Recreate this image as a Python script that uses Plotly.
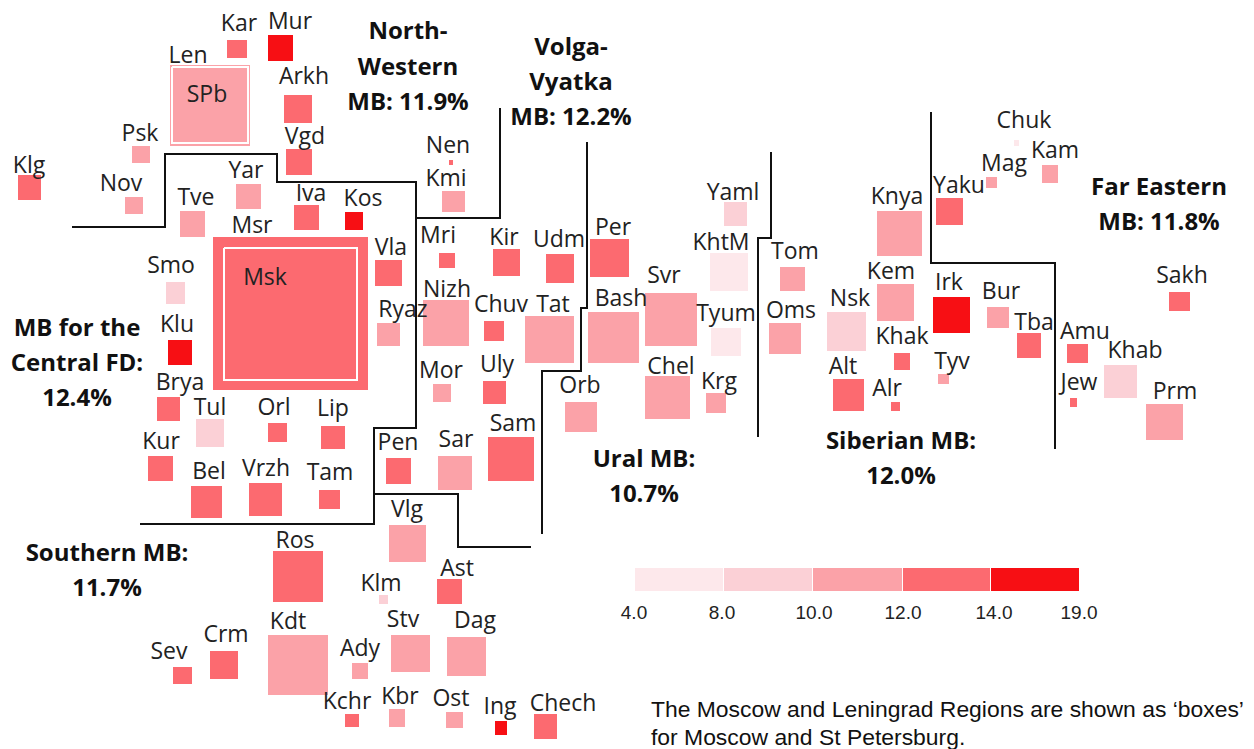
import plotly.graph_objects as go

# Region cartogram squares: name, left, top, right, bottom, rate class (1..5)
regions = [
 ("Kar",227,40,247,58,4),("Mur",268,35,293,61,5),("Len",170,65,250,146,3),("Arkh",284,95,312,123,4),
 ("Vgd",286,149,312,175,4),("Psk",132,146,150,163,3),("Klg",18,175,41,200,4),("Nov",125,197,143,214,3),
 ("Yar",236,184,261,209,3),("Tve",180,211,205,237,3),("Iva",294,205,319,230,4),("Kos",345,212,363,230,5),
 ("Msk",213,237,368,390,4),("Vla",375,260,402,286,4),("Smo",166,282,185,304,2),("Ryaz",377,323,400,346,3),
 ("Klu",168,340,192,365,5),("Brya",157,397,180,421,4),("Tul",196,419,224,447,2),("Orl",268,423,287,442,4),
 ("Lip",321,426,345,449,4),("Kur",148,456,173,481,4),("Pen",386,458,411,484,4),("Bel",191,486,222,518,4),
 ("Vrzh",249,483,282,516,4),("Tam",319,490,340,509,4),("Nen",449,160,453,165,4),("Kmi",442,191,465,212,3),
 ("Mri",439,253,455,268,4),("Kir",493,249,520,276,4),("Udm",546,254,574,283,4),("Per",590,239,629,277,4),
 ("Nizh",423,300,469,346,3),("Chuv",484,321,504,341,4),("Tat",525,316,574,363,3),("Bash",588,312,639,363,3),
 ("Svr",645,293,697,346,3),("Mor",433,384,451,402,3),("Uly",483,381,506,404,4),("Orb",565,402,597,432,3),
 ("Chel",645,376,690,419,3),("Krg",706,393,726,413,3),("Yaml",724,202,747,226,2),("KhtM",710,253,748,291,1),
 ("Tyum",711,328,741,356,1),("Sam",488,437,534,481,4),("Sar",438,456,472,490,3),("Tom",780,267,805,291,3),
 ("Oms",769,323,801,354,3),("Knya",877,211,922,256,3),("Kem",877,284,914,321,3),("Nsk",827,312,866,351,2),
 ("Irk",933,297,970,333,5),("Bur",987,307,1009,328,3),("Tba",1017,333,1041,358,4),("Yaku",936,198,963,225,4),
 ("Mag",986,177,997,188,3),("Kam",1042,165,1058,183,3),("Chuk",1014,140,1019,146,1),("Khak",894,353,910,370,4),
 ("Tyv",938,374,949,384,3),("Alt",833,379,864,411,4),("Alr",891,402,900,411,4),("Amu",1067,344,1088,363,4),
 ("Jew",1070,398,1077,407,4),("Khab",1104,365,1137,398,2),("Prm",1146,404,1183,440,3),("Sakh",1169,292,1190,311,4),
 ("Vlg",389,525,426,562,3),("Ros",273,551,323,602,4),("Klm",379,595,388,604,2),("Ast",437,579,462,604,4),
 ("Kdt",268,635,328,695,3),("Stv",391,635,430,672,3),("Dag",447,637,486,676,3),("Sev",173,667,192,684,4),
 ("Crm",210,651,238,679,4),("Ady",352,663,368,679,3),("Kchr",345,714,359,727,4),("Kbr",389,709,405,727,3),
 ("Ost",446,712,463,728,3),("Ing",495,721,507,735,5),("Chech",534,714,557,739,4),
]
class_colors = {1:"#FDE8EB",2:"#FBD0D6",3:"#FBA2A8",4:"#FC6A70",5:"#F70F14"}

# Region labels: text, centre x, centre y
labels = [
 ("Kar",239,25),("Mur",290,23),("Len",188,57),("SPb",207,96),("Arkh",304,78),("Vgd",305,138),("Psk",140,135),
 ("Klg",29,167),("Nov",121,185),("Yar",246,172),("Tve",196,199),("Msr",252,227),("Iva",311,195),("Kos",363,200),
 ("Nen",448,147),("Kmi",446,180),("Mri",438,237),("Kir",504,239),("Udm",559,241),("Per",613,229),("Yaml",733,194),
 ("KhtM",721,244),("Tom",795,253),("Knya",897,198),("Yaku",959,187),("Mag",1004,165),("Chuk",1024,122),("Kam",1055,152),
 ("Smo",171,267),("Klu",177,326),("Msk",265,279),("Vla",391,249),("Ryaz",403,311),("Nizh",447,291),("Chuv",501,306),
 ("Tat",553,306),("Bash",621,300),("Svr",664,277),("Tyum",726,315),("Oms",791,312),("Nsk",850,300),("Kem",891,273),
 ("Irk",949,284),("Bur",1001,293),("Tba",1034,324),("Khak",902,338),("Tyv",952,363),("Alt",843,368),("Alr",887,390),
 ("Amu",1085,333),("Jew",1079,384),("Khab",1135,352),("Prm",1175,393),("Sakh",1182,277),("Brya",180,384),("Tul",210,409),
 ("Orl",274,409),("Lip",333,410),("Kur",161,443),("Bel",209,473),("Vrzh",266,470),("Tam",330,474),("Pen",398,444),
 ("Mor",441,372),("Uly",497,366),("Sar",456,441),("Sam",513,425),("Orb",580,387),("Chel",671,368),("Krg",719,383),
 ("Vlg",407,511),("Ros",295,542),("Klm",381,585),("Ast",457,570),("Kdt",288,623),("Stv",403,621),("Dag",475,622),
 ("Sev",169,653),("Crm",226,636),("Ady",360,650),("Kchr",347,703),("Kbr",400,698),("Ost",451,700),("Ing",500,708),
 ("Chech",563,705),
]

# Federal district captions: text, centre x, centre y
captions = [
 ("North-",408,33),("Western",408,69),("MB: 11.9%",408,104),
 ("Volga-",571,49),("Vyatka",571,84),("MB: 12.2%",571,119),
 ("Far Eastern",1159,189),("MB: 11.8%",1159,224),
 ("MB for the",77,330),("Central FD:",77,365),("12.4%",77,400),
 ("Siberian MB:",901,443),("12.0%",901,478),
 ("Ural MB:",644,461),("10.7%",644,496),
 ("Southern MB:",107,555),("11.7%",107,590),
]

# District borders
borders = [
 [(72,227),(165,227),(165,154),(277,154),(277,182),(416,182),(416,428),(374,428),(374,524),(140,524)],
 [(500,108),(500,218),(416,218)],
 [(374,494),(458,494),(458,547),(531,547)],
 [(587,142),(587,308),(581,308),(581,371),(542,371),(542,534)],
 [(771,152),(771,238),(758,238),(758,437)],
 [(931,112),(931,263),(1055,263),(1055,449)],
]

# Inner "box" outlines: left, top, right, bottom
boxes = [(172,67,248,143),(224,248,357,380)]

# Legend
legend_edges = [634,723,812,902,990,1079]
legend_labels = ["4.0","8.0","10.0","12.0","14.0","19.0"]
legend_label_x = [634,722,814,903,994,1079]
legend_classes = [1,2,3,4,5]

note_lines = [("The Moscow and Leningrad Regions are shown as ‘boxes’",651,711),
              ("for Moscow and St Petersburg.",651,739)]

LABEL_FONT = "Open Sans"
fig = go.Figure()

fig.add_trace(go.Bar(
    x=[(r[1]+r[3])/2 for r in regions], width=[r[3]-r[1] for r in regions],
    base=[r[2] for r in regions], y=[r[4]-r[2] for r in regions],
    marker=dict(color=[class_colors[r[5]] for r in regions], line=dict(width=0)),
    text=[r[0] for r in regions], textposition="none", hoverinfo="text", showlegend=False))

fig.add_trace(go.Bar(
    x=[(a+b)/2 for a,b in zip(legend_edges,legend_edges[1:])],
    width=[b-a-1 for a,b in zip(legend_edges,legend_edges[1:])],
    base=[568]*5, y=[23]*5,
    marker=dict(color=[class_colors[c] for c in legend_classes], line=dict(width=0)),
    hoverinfo="skip", showlegend=False))

bx, by = [], []
for l,t,r,b in boxes:
    bx += [l,r,r,l,l,None]; by += [t,t,b,b,t,None]
fig.add_trace(go.Scatter(x=bx,y=by,mode="lines",line=dict(color="white",width=2),hoverinfo="skip",showlegend=False))

lx, ly = [], []
for b in borders:
    lx += [p[0] for p in b]+[None]; ly += [p[1] for p in b]+[None]
fig.add_trace(go.Scatter(x=lx,y=ly,mode="lines",line=dict(color="#111111",width=2),hoverinfo="skip",showlegend=False))

fig.add_trace(go.Scatter(x=[l[1] for l in labels],y=[l[2] for l in labels],text=[l[0] for l in labels],
    mode="text",textposition="middle center",textfont=dict(family=LABEL_FONT,size=23,color="#222222"),
    hoverinfo="skip",showlegend=False))
fig.add_trace(go.Scatter(x=[c[1] for c in captions],y=[c[2] for c in captions],text=[f"<b>{c[0]}</b>" for c in captions],
    mode="text",textposition="middle center",textfont=dict(family=LABEL_FONT,size=24,color="#111111"),
    hoverinfo="skip",showlegend=False))
fig.add_trace(go.Scatter(x=legend_label_x,y=[614]*6,text=legend_labels,
    mode="text",textposition="middle center",textfont=dict(family="Liberation Sans",size=19,color="#222222"),
    hoverinfo="skip",showlegend=False))
fig.add_trace(go.Scatter(x=[n[1] for n in note_lines],y=[n[2] for n in note_lines],text=[n[0] for n in note_lines],
    mode="text",textposition="middle right",textfont=dict(family="Liberation Sans",size=22.9,color="#111111"),
    hoverinfo="skip",showlegend=False))

fig.update_layout(width=1254,height=749,margin=dict(l=0,r=0,t=0,b=0),paper_bgcolor="white",plot_bgcolor="white",
    barmode="overlay",bargap=0,
    xaxis=dict(range=[0,1254],visible=False,fixedrange=True),
    yaxis=dict(range=[749,0],visible=False,fixedrange=True))
fig.write_html("out.html",post_script="document.body.style.margin='0';document.body.style.overflow='hidden';",
               config={"displayModeBar":False})
